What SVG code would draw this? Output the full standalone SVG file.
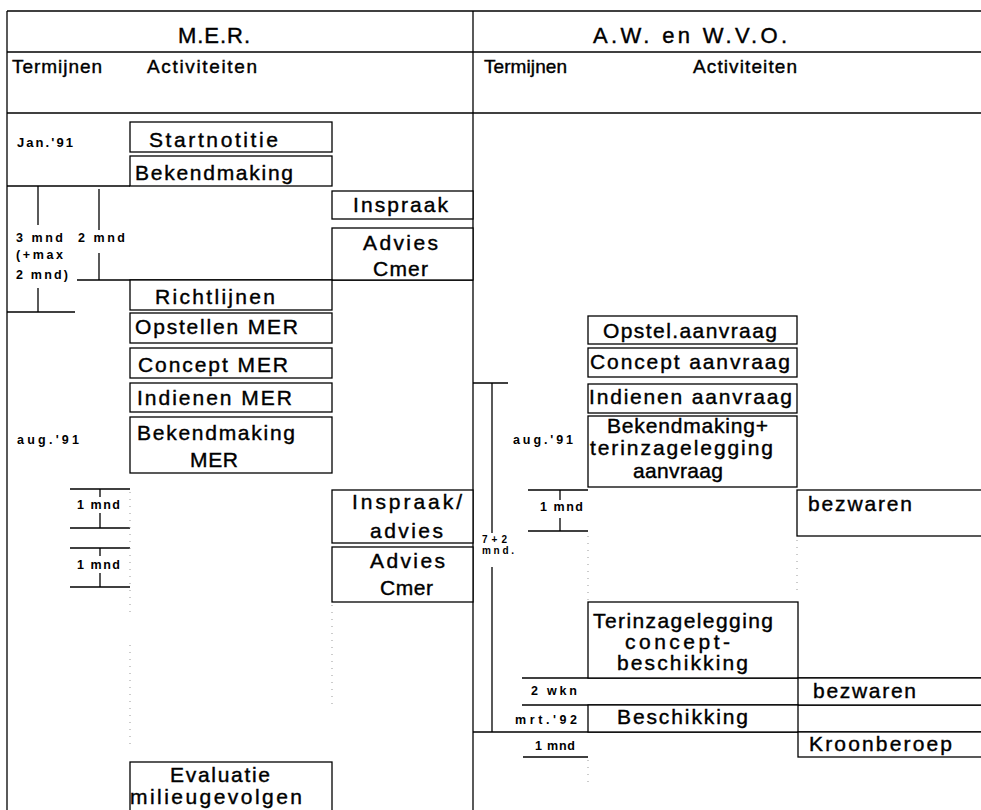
<svg xmlns="http://www.w3.org/2000/svg" width="981" height="810" viewBox="0 0 981 810">
<style>
.ln{stroke:#000;stroke-width:1.3;fill:none}
.bx{fill:#fff;stroke:#000;stroke-width:1.3}
.dt{stroke:#999;stroke-width:1;stroke-dasharray:1 6;fill:none}
.t{font-family:"Liberation Sans",Arial,sans-serif;font-size:21px;fill:#000;stroke:#000;stroke-width:0.4}
.h{font-size:22px}
.c{font-size:19px}
.s{font-size:12.5px;font-weight:bold;stroke:none}
.xs{font-size:10px;font-weight:bold;stroke:none}
</style>
<rect x="0" y="0" width="981" height="810" fill="#fff"/>
<g id="grid">
<line class="ln" x1="7" y1="11" x2="981" y2="11"/>
<line class="ln" x1="7" y1="52" x2="981" y2="52"/>
<line class="ln" x1="7" y1="113" x2="981" y2="113"/>
<line class="ln" x1="7" y1="11" x2="7" y2="810"/>
<line class="ln" x1="473" y1="11" x2="473" y2="810"/>
</g>
<g id="header">
<text class="t h" x="178" y="43" textLength="72" lengthAdjust="spacing">M.E.R.</text>
<text class="t h" x="593" y="43" textLength="194" lengthAdjust="spacing">A.W. en W.V.O.</text>
<text class="t c" x="12" y="73" textLength="90" lengthAdjust="spacing">Termijnen</text>
<text class="t c" x="147" y="73" textLength="110" lengthAdjust="spacing">Activiteiten</text>
<text class="t c" x="484" y="73" textLength="83" lengthAdjust="spacing">Termijnen</text>
<text class="t c" x="693" y="73" textLength="104" lengthAdjust="spacing">Activiteiten</text>
</g>
<g id="connectors">
<line class="ln" x1="7" y1="186" x2="130" y2="186"/>
<line class="ln" x1="77" y1="280" x2="473" y2="280"/>
<line class="ln" x1="38" y1="186" x2="38" y2="225"/>
<line class="ln" x1="38" y1="288" x2="38" y2="312"/>
<line class="ln" x1="7" y1="312" x2="75" y2="312"/>
<line class="ln" x1="99" y1="189" x2="99" y2="230"/>
<line class="ln" x1="99" y1="253" x2="99" y2="280"/>
<line class="ln" x1="70" y1="489" x2="130" y2="489"/>
<line class="ln" x1="100" y1="489" x2="100" y2="497"/>
<line class="ln" x1="100" y1="513" x2="100" y2="528"/>
<line class="ln" x1="70" y1="528" x2="130" y2="528"/>
<line class="ln" x1="70" y1="548" x2="130" y2="548"/>
<line class="ln" x1="100" y1="548" x2="100" y2="556"/>
<line class="ln" x1="100" y1="573" x2="100" y2="587"/>
<line class="ln" x1="70" y1="587" x2="130" y2="587"/>
<line class="ln" x1="473" y1="383" x2="508" y2="383"/>
<line class="ln" x1="492" y1="383" x2="492" y2="533"/>
<line class="ln" x1="492" y1="567" x2="492" y2="732"/>
<line class="ln" x1="473" y1="732" x2="981" y2="732"/>
<line class="ln" x1="528" y1="490" x2="588" y2="490"/>
<line class="ln" x1="560" y1="490" x2="560" y2="500"/>
<line class="ln" x1="560" y1="518" x2="560" y2="531"/>
<line class="ln" x1="528" y1="531" x2="588" y2="531"/>
<line class="ln" x1="522" y1="678" x2="981" y2="678"/>
<line class="ln" x1="522" y1="705" x2="981" y2="705"/>
<line class="ln" x1="523" y1="757" x2="588" y2="757"/>
<line class="dt" x1="130" y1="492" x2="130" y2="612"/>
<line class="dt" x1="130" y1="645" x2="130" y2="750"/>
<line class="dt" x1="332" y1="605" x2="332" y2="710"/>
<line class="dt" x1="588" y1="536" x2="588" y2="600"/>
<line class="dt" x1="588" y1="760" x2="588" y2="782"/>
<line class="dt" x1="797" y1="540" x2="797" y2="590"/>
</g>
<g id="labels">
<text class="t s" x="17" y="147" textLength="56" lengthAdjust="spacing" style="font-size:13px">Jan.'91</text>
<text class="t s" x="16" y="242" textLength="47" lengthAdjust="spacing">3 mnd</text>
<text class="t s" x="16" y="259" textLength="47" lengthAdjust="spacing">(+max</text>
<text class="t s" x="16" y="279" textLength="52" lengthAdjust="spacing">2 mnd)</text>
<text class="t s" x="78" y="242" textLength="47" lengthAdjust="spacing">2 mnd</text>
<text class="t s" x="17" y="444" textLength="62" lengthAdjust="spacing">aug.'91</text>
<text class="t s" x="77" y="509" textLength="43" lengthAdjust="spacing">1 mnd</text>
<text class="t s" x="77" y="569" textLength="43" lengthAdjust="spacing">1 mnd</text>
<text class="t xs" x="482" y="543" textLength="25" lengthAdjust="spacing">7+2</text>
<text class="t xs" x="482" y="554" textLength="32" lengthAdjust="spacing">mnd.</text>
<text class="t s" x="513" y="444" textLength="60" lengthAdjust="spacing">aug.'91</text>
<text class="t s" x="540" y="511" textLength="43" lengthAdjust="spacing">1 mnd</text>
<text class="t s" x="531" y="695" textLength="46" lengthAdjust="spacing">2 wkn</text>
<text class="t s" x="515" y="724" textLength="62" lengthAdjust="spacing">mrt.'92</text>
<text class="t s" x="535" y="750" textLength="40" lengthAdjust="spacing">1 mnd</text>
</g>
<g id="startnotitie"><rect class="bx" x="130" y="122" width="202" height="30"/><text class="t" x="149" y="147" textLength="129" lengthAdjust="spacing">Startnotitie</text></g>
<g id="bekendmaking1"><rect class="bx" x="130" y="156" width="202" height="30"/><text class="t" x="135" y="180" textLength="158" lengthAdjust="spacing">Bekendmaking</text></g>
<g id="inspraak1"><rect class="bx" x="332" y="191" width="141" height="28"/><text class="t" x="353" y="212" textLength="95" lengthAdjust="spacing">Inspraak</text></g>
<g id="advies1"><rect class="bx" x="332" y="228" width="141" height="52"/><text class="t" x="363" y="250" textLength="75" lengthAdjust="spacing">Advies</text><text class="t" x="373" y="276" textLength="55" lengthAdjust="spacing">Cmer</text></g>
<g id="richtlijnen"><rect class="bx" x="130" y="280" width="202" height="30"/><text class="t" x="155" y="304" textLength="120" lengthAdjust="spacing">Richtlijnen</text></g>
<g id="opstellen"><rect class="bx" x="130" y="313" width="202" height="30"/><text class="t" x="135" y="334" textLength="163" lengthAdjust="spacing">Opstellen MER</text></g>
<g id="concept"><rect class="bx" x="130" y="348" width="202" height="30"/><text class="t" x="138" y="372" textLength="150" lengthAdjust="spacing">Concept MER</text></g>
<g id="indienen"><rect class="bx" x="130" y="383" width="202" height="29"/><text class="t" x="137" y="405" textLength="155" lengthAdjust="spacing">Indienen MER</text></g>
<g id="bekendmaking2"><rect class="bx" x="130" y="417" width="202" height="56"/><text class="t" x="137" y="440" textLength="158" lengthAdjust="spacing">Bekendmaking</text><text class="t" x="190" y="467" textLength="48" lengthAdjust="spacing">MER</text></g>
<g id="inspraak2"><rect class="bx" x="332" y="490" width="141" height="53"/><text class="t" x="352" y="509" textLength="110" lengthAdjust="spacing">Inspraak/</text><text class="t" x="370" y="538" textLength="73" lengthAdjust="spacing">advies</text></g>
<g id="advies2"><rect class="bx" x="332" y="547" width="141" height="55"/><text class="t" x="370" y="568" textLength="75" lengthAdjust="spacing">Advies</text><text class="t" x="380" y="595" textLength="53" lengthAdjust="spacing">Cmer</text></g>
<g id="evaluatie"><rect class="bx" x="130" y="762" width="202" height="60"/><text class="t" x="170" y="782" textLength="100" lengthAdjust="spacing">Evaluatie</text><text class="t" x="130" y="804" textLength="172" lengthAdjust="spacing">milieugevolgen</text></g>
<g id="opstel_aanvraag"><rect class="bx" x="588" y="316" width="209" height="28"/><text class="t" x="603" y="338" textLength="174" lengthAdjust="spacing">Opstel.aanvraag</text></g>
<g id="concept_aanvraag"><rect class="bx" x="588" y="348" width="209" height="29"/><text class="t" x="590" y="369" textLength="200" lengthAdjust="spacing">Concept aanvraag</text></g>
<g id="indienen_aanvraag"><rect class="bx" x="588" y="384" width="209" height="29"/><text class="t" x="589" y="404" textLength="203" lengthAdjust="spacing">Indienen aanvraag</text></g>
<g id="bekendmaking3"><rect class="bx" x="588" y="416" width="209" height="71"/><text class="t" x="607" y="433" textLength="161" lengthAdjust="spacing">Bekendmaking+</text><text class="t" x="590" y="455" textLength="183" lengthAdjust="spacing">terinzagelegging</text><text class="t" x="633" y="478" textLength="90" lengthAdjust="spacing">aanvraag</text></g>
<g id="bezwaren1"><rect class="bx" x="797" y="490" width="190" height="46"/><text class="t" x="808" y="511" textLength="104" lengthAdjust="spacing">bezwaren</text></g>
<g id="terinzagelegging"><rect class="bx" x="588" y="602" width="210" height="76"/><text class="t" x="593" y="628" textLength="180" lengthAdjust="spacing">Terinzagelegging</text><text class="t" x="625" y="649" textLength="105" lengthAdjust="spacing">concept-</text><text class="t" x="617" y="670" textLength="131" lengthAdjust="spacing">beschikking</text></g>
<g id="bezwaren2"><rect class="bx" x="798" y="678" width="190" height="27"/><text class="t" x="813" y="698" textLength="103" lengthAdjust="spacing">bezwaren</text></g>
<g id="beschikking"><rect class="bx" x="588" y="705" width="210" height="27"/><text class="t" x="617" y="724" textLength="131" lengthAdjust="spacing">Beschikking</text></g>
<g id="kroonberoep"><rect class="bx" x="798" y="732" width="190" height="25"/><text class="t" x="809" y="751" textLength="143" lengthAdjust="spacing">Kroonberoep</text></g>
</svg>
